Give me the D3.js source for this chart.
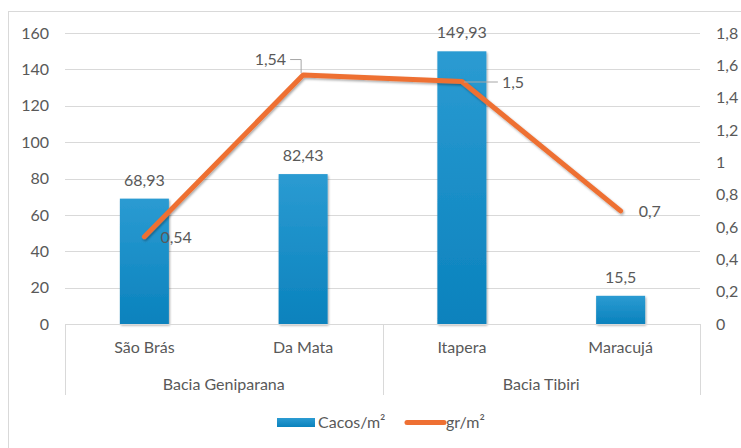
<!DOCTYPE html>
<html lang="pt">
<head>
<meta charset="UTF-8" />
<title>Cacos e gr por m²</title>
<script src="https://cdn.jsdelivr.net/npm/d3@7"></script>
<style>
  body { margin: 0; background: #fff; }
  svg text { font-family: Lato, "Open Sans", sans-serif; fill: #595959; }
</style>
</head>
<body>
<script>
  // data
  var sites = ["São Brás", "Da Mata", "Itapera", "Maracujá"];
  var basins = ["Bacia Geniparana", "Bacia Geniparana", "Bacia Tibiri", "Bacia Tibiri"];
  var cacos = [68.93, 82.43, 149.93, 15.5];
  var grams = [0.54, 1.54, 1.5, 0.7];
  var leftTicks = [0, 20, 40, 60, 80, 100, 120, 140, 160];
  var rightTicks = [0, 0.2, 0.4, 0.6, 0.8, 1, 1.2, 1.4, 1.6, 1.8];

  var w = 741, h = 448;
  var plotLeft = 65, plotRight = 700, plotTop = 33, plotBottom = 324;
  var fs = "16px";

  var svg = d3.select("body").append("svg")
    .attr("width", w)
    .attr("height", h);

  var defs = svg.append("defs");
  var grad = defs.append("linearGradient")
    .attr("id", "barGrad")
    .attr("x1", 0).attr("y1", 0).attr("x2", 0).attr("y2", 1);
  grad.append("stop").attr("offset", "0%").attr("stop-color", "#2b9bd2");
  grad.append("stop").attr("offset", "100%").attr("stop-color", "#0a82bd");

  var shadow = defs.append("filter").attr("id", "shadow")
    .attr("x", "-20%").attr("y", "-20%").attr("width", "140%").attr("height", "140%");
  shadow.append("feDropShadow")
    .attr("dx", 1).attr("dy", 1.5).attr("stdDeviation", 1.2)
    .attr("flood-color", "#000").attr("flood-opacity", 0.35);

  // outer chart border
  svg.append("rect")
    .attr("x", 8.5).attr("y", 11.5)
    .attr("width", w).attr("height", h)
    .attr("fill", "none")
    .attr("stroke", "#d9d9d9");

  var x = d3.scaleBand()
    .domain(sites)
    .range([plotLeft, plotRight])
    .paddingInner(0)
    .paddingOuter(0);

  var yL = d3.scaleLinear().domain([0, 160]).range([plotBottom, plotTop]);
  var yR = d3.scaleLinear().domain([0, 1.8]).range([plotBottom, plotTop]);

  var fmt = function(v) { return String(v).replace(".", ","); };

  // gridlines
  svg.append("g")
    .selectAll("line")
    .data(leftTicks.slice(1))
    .enter()
    .append("line")
    .attr("x1", plotLeft).attr("x2", plotRight)
    .attr("y1", function(d) { return Math.round(yL(d)) + 0.5; })
    .attr("y2", function(d) { return Math.round(yL(d)) + 0.5; })
    .attr("stroke", "#d9d9d9")
    .attr("stroke-width", 1);

  // left axis labels
  var yAxisL = d3.axisLeft(yL).tickValues(leftTicks).tickSize(0).tickPadding(0);
  var gl = svg.append("g")
    .attr("class", "yaxis")
    .attr("transform", "translate(49,0)")
    .call(yAxisL);
  gl.select(".domain").remove();
  gl.selectAll("text")
    .style("font-size", fs)
    .attr("fill", "#595959");

  // right axis labels
  var yAxisR = d3.axisRight(yR).tickValues(rightTicks).tickSize(0).tickPadding(0)
    .tickFormat(function(d) { return fmt(+d.toFixed(1)); });
  var gr = svg.append("g")
    .attr("class", "yaxis")
    .attr("transform", "translate(716,0)")
    .call(yAxisR);
  gr.select(".domain").remove();
  gr.selectAll("text")
    .style("font-size", fs)
    .attr("fill", "#595959");

  // bars
  var barW = 49;
  svg.append("g")
    .selectAll("rect")
    .data(cacos)
    .enter()
    .append("rect")
    .attr("x", function(d, i) { return x(sites[i]) + x.bandwidth() / 2 - barW / 2; })
    .attr("y", function(d) { return yL(d); })
    .attr("width", barW)
    .attr("height", function(d) { return plotBottom - yL(d); })
    .attr("fill", "url(#barGrad)")
    .attr("filter", "url(#shadow)");

  // x axis baseline and group separators
  var axisG = svg.append("g");
  axisG.append("line")
    .attr("x1", plotLeft).attr("x2", plotRight)
    .attr("y1", plotBottom + 0.5).attr("y2", plotBottom + 0.5)
    .attr("stroke", "#d9d9d9");
  var seps = [plotLeft, x(sites[2]), plotRight];
  axisG.selectAll("line.sep")
    .data(seps)
    .enter()
    .append("line")
    .attr("class", "sep")
    .attr("x1", function(d) { return Math.round(d) + 0.5; })
    .attr("x2", function(d) { return Math.round(d) + 0.5; })
    .attr("y1", plotBottom)
    .attr("y2", 395)
    .attr("stroke", "#d9d9d9");

  // category labels
  var xAxis = d3.axisBottom(x).tickSize(0).tickPadding(0);
  var gx = svg.append("g")
    .attr("transform", "translate(0," + 342 + ")")
    .call(xAxis);
  gx.select(".domain").remove();
  gx.selectAll("text")
    .style("font-size", fs)
    .attr("fill", "#595959");

  // basin labels
  var basinNames = Array.from(new Set(basins));
  svg.append("g")
    .selectAll("text")
    .data(basinNames)
    .enter()
    .append("text")
    .attr("x", function(b) {
      var idx = sites.filter(function(s, i) { return basins[i] === b; });
      return (x(idx[0]) + x(idx[idx.length - 1]) + x.bandwidth()) / 2;
    })
    .attr("y", 390)
    .attr("text-anchor", "middle")
    .style("font-size", fs)
    .text(function(b) { return b; });

  // line series
  var cx = function(i) { return x(sites[i]) + x.bandwidth() / 2; };
  var line = d3.line()
    .x(function(d, i) { return cx(i); })
    .y(function(d) { return yR(d); });

  svg.append("path")
    .datum(grams)
    .attr("d", line)
    .attr("fill", "none")
    .attr("stroke", "#ee7033")
    .attr("stroke-width", 5)
    .attr("stroke-linejoin", "round")
    .attr("stroke-linecap", "round")
    .attr("filter", "url(#shadow)");

  // bar data labels
  svg.append("g")
    .selectAll("text")
    .data(cacos)
    .enter()
    .append("text")
    .attr("x", function(d, i) { return cx(i); })
    .attr("y", function(d) { return yL(d) - 13; })
    .attr("text-anchor", "middle")
    .style("font-size", fs)
    .text(function(d) { return fmt(d); });

  // line data labels (offsets relative to point)
  var lblDx = [16, -17, 40, 18];
  var lblDy = [6, -10, 6, 6];
  var lblAnchor = ["start", "end", "start", "start"];

  // leader lines
  svg.append("path")
    .attr("d", "M" + (cx(1) - 13) + "," + (yR(grams[1]) - 15.5) + "H" + (cx(1) - 2) + "V" + (yR(grams[1]) - 2))
    .attr("fill", "none")
    .attr("stroke", "#a6a6a6")
    .attr("stroke-width", 1);
  svg.append("path")
    .attr("d", "M" + (cx(2) + 2) + "," + (yR(grams[2]) + 0.5) + "H" + (cx(2) + 36))
    .attr("fill", "none")
    .attr("stroke", "#a6a6a6")
    .attr("stroke-width", 1);

  svg.append("g")
    .selectAll("text")
    .data(grams)
    .enter()
    .append("text")
    .attr("x", function(d, i) { return cx(i) + lblDx[i]; })
    .attr("y", function(d, i) { return yR(d) + lblDy[i]; })
    .attr("text-anchor", function(d, i) { return lblAnchor[i]; })
    .style("font-size", fs)
    .text(function(d) { return fmt(d); });

  // legend
  var lg = svg.append("g");
  lg.append("rect")
    .attr("x", 277).attr("y", 418)
    .attr("width", 38).attr("height", 9)
    .attr("fill", "url(#barGrad)");
  lg.append("text")
    .attr("x", 318).attr("y", 428)
    .style("font-size", fs)
    .text("Cacos/m²");
  lg.append("line")
    .attr("x1", 407).attr("x2", 444)
    .attr("y1", 422.5).attr("y2", 422.5)
    .attr("stroke", "#ee7033")
    .attr("stroke-width", 5)
    .attr("stroke-linecap", "round");
  lg.append("text")
    .attr("x", 446).attr("y", 428)
    .style("font-size", fs)
    .text("gr/m²");
</script>
</body>
</html>
